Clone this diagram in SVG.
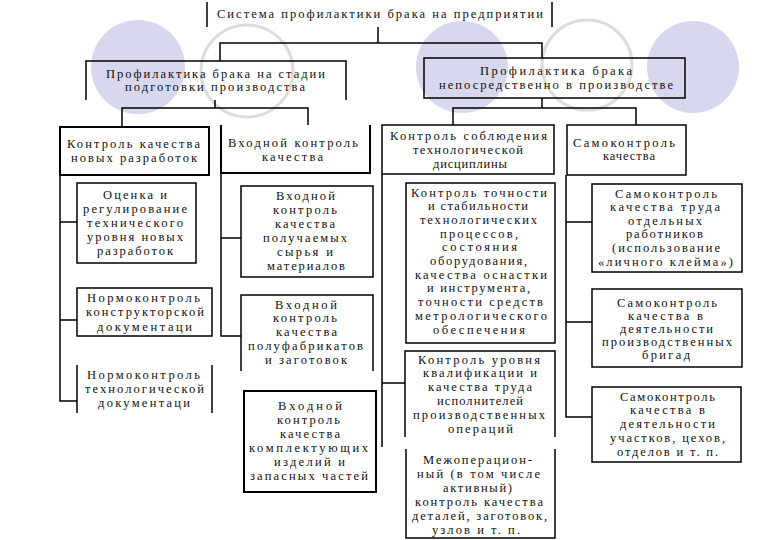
<svg xmlns="http://www.w3.org/2000/svg" width="780" height="540" viewBox="0 0 780 540">
<style>
.bg{fill:#d7d7ee}
.ring{fill:none;stroke:#dcdcdc;stroke-width:3}
.b{fill:none;stroke:#000;stroke-width:1.5}
.k{fill:none;stroke:#000;stroke-width:1.5}
text{font-family:"Liberation Serif","Times New Roman",serif;font-size:12.5px;fill:#111}
</style>
<rect width="780" height="540" fill="#fff"/>
<g id="background">
<circle class="bg" cx="138" cy="67" r="47"/>
<circle class="ring" cx="247" cy="71" r="46"/>
<circle class="bg" cx="462" cy="67" r="46"/>
<circle class="ring" cx="587" cy="65" r="45"/>
<circle class="bg" cx="693" cy="67" r="46"/>
</g>
<g id="connectors">
<path class="k" d="M378,27V43M220,61V43H542V58"/>
<path class="k" d="M215,100V108M122,127V108H308V125"/>
<path class="k" d="M542,98V108M453,125V108H636V125"/>
<path class="k" d="M60,175V401H77M60,222H77M60,320H77"/>
<path class="k" d="M221,173V336H241M221,238H241"/>
<path class="k" d="M382,174V447M382,383H405"/>
<path class="k" d="M566,175V417H592M566,222H592M566,322H592"/>
</g>
<g id="n0">
<path class="b" d="M207,2V27M552,2V27"/>
<text x="217" y="18" textLength="326" lengthAdjust="spacing">Система профилактики брака на предприятии</text>
</g>
<g id="n1">
<path class="b" d="M86,100V61H346V100"/>
<text x="106" y="77.5" textLength="219" lengthAdjust="spacing">Профилактика брака на стадии</text>
<text x="125" y="91" textLength="180" lengthAdjust="spacing">подготовки производства</text>
</g>
<g id="n2">
<rect class="b" x="424" y="58" width="261" height="40"/>
<text x="480" y="74.5" textLength="152" lengthAdjust="spacing">Профилактика брака</text>
<text x="439" y="88.5" textLength="234" lengthAdjust="spacing">непосредственно в производстве</text>
</g>
<g id="n3">
<rect class="b" x="60" y="127" width="149" height="48" style="stroke-width:2"/>
<text x="67" y="148" textLength="133" lengthAdjust="spacing">Контроль качества</text>
<text x="71" y="162" textLength="126" lengthAdjust="spacing">новых разработок</text>
</g>
<g id="n4">
<path class="b" d="M221,125V173H370V125" style="stroke-width:2"/>
<text x="228" y="147" textLength="130" lengthAdjust="spacing">Входной контроль</text>
<text x="262" y="161" textLength="61" lengthAdjust="spacing">качества</text>
</g>
<g id="n5">
<rect class="b" x="382" y="125" width="172" height="49"/>
<text x="390" y="140" textLength="157" lengthAdjust="spacing">Контроль соблюдения</text>
<text x="413" y="154" textLength="110" lengthAdjust="spacing">технологической</text>
<text x="433" y="168" textLength="74" lengthAdjust="spacing">дисциплины</text>
</g>
<g id="n6">
<rect class="b" x="567" y="125" width="119" height="50"/>
<text x="573" y="147" textLength="102" lengthAdjust="spacing">Самоконтроль</text>
<text x="603" y="160" textLength="52" lengthAdjust="spacing">качества</text>
</g>
<g id="n7">
<rect class="b" x="77" y="183" width="119" height="80"/>
<text x="103" y="198.5" textLength="64" lengthAdjust="spacing">Оценка и</text>
<text x="83" y="212.5" textLength="104" lengthAdjust="spacing">регулирование</text>
<text x="87" y="226.5" textLength="96" lengthAdjust="spacing">технического</text>
<text x="87" y="240.5" textLength="96" lengthAdjust="spacing">уровня новых</text>
<text x="97" y="254.5" textLength="76" lengthAdjust="spacing">разработок</text>
</g>
<g id="n8">
<rect class="b" x="77" y="288" width="135" height="48"/>
<text x="87" y="301.5" textLength="113" lengthAdjust="spacing">Нормоконтроль</text>
<text x="86" y="316" textLength="118" lengthAdjust="spacing">конструкторской</text>
<text x="97" y="330.5" textLength="95" lengthAdjust="spacing">документаци</text>
</g>
<g id="n9">
<path class="b" d="M77,365V413M212,365V413"/>
<text x="87" y="378.5" textLength="113" lengthAdjust="spacing">Нормоконтроль</text>
<text x="85" y="392.5" textLength="119" lengthAdjust="spacing">технологической</text>
<text x="98" y="406.5" textLength="92" lengthAdjust="spacing">документаци</text>
</g>
<g id="n10">
<rect class="b" x="241" y="186" width="132" height="91"/>
<text x="276" y="199.5" textLength="59" lengthAdjust="spacing">Входной</text>
<text x="273" y="213.5" textLength="64" lengthAdjust="spacing">контроль</text>
<text x="275" y="227.5" textLength="60" lengthAdjust="spacing">качества</text>
<text x="263" y="241.5" textLength="84" lengthAdjust="spacing">получаемых</text>
<text x="277" y="255.5" textLength="56" lengthAdjust="spacing">сырья и</text>
<text x="267" y="269.5" textLength="78" lengthAdjust="spacing">материалов</text>
</g>
<g id="n11">
<path class="b" d="M241,371V295H373V371"/>
<text x="275" y="308.5" textLength="62" lengthAdjust="spacing">Входной</text>
<text x="273" y="322.3" textLength="64" lengthAdjust="spacing">контроль</text>
<text x="276" y="336" textLength="61" lengthAdjust="spacing">качества</text>
<text x="248" y="349.8" textLength="115" lengthAdjust="spacing">полуфабрикатов</text>
<text x="265" y="363.5" textLength="82" lengthAdjust="spacing">и заготовок</text>
</g>
<g id="n12">
<rect class="b" x="244" y="391" width="132" height="101" style="stroke-width:2"/>
<text x="278" y="409.5" textLength="64" lengthAdjust="spacing">Входной</text>
<text x="277" y="423.5" textLength="63" lengthAdjust="spacing">контроль</text>
<text x="280" y="437.5" textLength="60" lengthAdjust="spacing">качества</text>
<text x="249" y="451.5" textLength="119" lengthAdjust="spacing">комплектующих</text>
<text x="274" y="465.5" textLength="71" lengthAdjust="spacing">изделий и</text>
<text x="250" y="479.5" textLength="118" lengthAdjust="spacing">запасных частей</text>
</g>
<g id="n13">
<rect class="b" x="406" y="183" width="149" height="160"/>
<text x="411" y="196.5" textLength="136" lengthAdjust="spacing">Контроль точности</text>
<text x="428" y="210.2" textLength="100" lengthAdjust="spacing">и стабильности</text>
<text x="420" y="223.9" textLength="117" lengthAdjust="spacing">технологических</text>
<text x="440" y="237.6" textLength="78" lengthAdjust="spacing">процессов,</text>
<text x="442" y="251.3" textLength="75" lengthAdjust="spacing">состояния</text>
<text x="430" y="265" textLength="97" lengthAdjust="spacing">оборудования,</text>
<text x="415" y="278.7" textLength="132" lengthAdjust="spacing">качества оснастки</text>
<text x="427" y="292.4" textLength="103" lengthAdjust="spacing">и инструмента,</text>
<text x="418" y="306.1" textLength="125" lengthAdjust="spacing">точности средств</text>
<text x="415" y="319.8" textLength="132" lengthAdjust="spacing">метрологического</text>
<text x="433" y="333.5" textLength="92" lengthAdjust="spacing">обеспечения</text>
</g>
<g id="n14">
<path class="b" d="M405,437V351H555V437"/>
<text x="418" y="363.5" textLength="122" lengthAdjust="spacing">Контроль уровня</text>
<text x="423" y="377.3" textLength="114" lengthAdjust="spacing">квалификации и</text>
<text x="428" y="391.1" textLength="104" lengthAdjust="spacing">качества труда</text>
<text x="437" y="404.9" textLength="86" lengthAdjust="spacing">исполнителей</text>
<text x="413" y="418.7" textLength="132" lengthAdjust="spacing">производственных</text>
<text x="448" y="432.5" textLength="65" lengthAdjust="spacing">операций</text>
</g>
<g id="n15">
<path class="b" d="M406,449V538H555V449"/>
<text x="423" y="463.5" textLength="109" lengthAdjust="spacing">Межоперацион-</text>
<text x="417" y="477.5" textLength="123" lengthAdjust="spacing">ный (в том числе</text>
<text x="443" y="491.5" textLength="69" lengthAdjust="spacing">активный)</text>
<text x="415" y="505.5" textLength="128" lengthAdjust="spacing">контроль качества</text>
<text x="412" y="519.5" textLength="135" lengthAdjust="spacing">деталей, заготовок,</text>
<text x="432" y="533.5" textLength="88" lengthAdjust="spacing">узлов и т. п.</text>
</g>
<g id="n16">
<rect class="b" x="592" y="184" width="150" height="88"/>
<text x="615" y="197.5" textLength="102" lengthAdjust="spacing">Самоконтроль</text>
<text x="610" y="211.1" textLength="110" lengthAdjust="spacing">качества труда</text>
<text x="628" y="224.7" textLength="74" lengthAdjust="spacing">отдельных</text>
<text x="626" y="238.3" textLength="77" lengthAdjust="spacing">работников</text>
<text x="612" y="251.9" textLength="108" lengthAdjust="spacing">(использование</text>
<text x="598" y="265.5" textLength="135" lengthAdjust="spacing">«личного клейма»)</text>
</g>
<g id="n17">
<rect class="b" x="592" y="289" width="150" height="78"/>
<text x="617" y="306.5" textLength="100" lengthAdjust="spacing">Самоконтроль</text>
<text x="628" y="319.5" textLength="75" lengthAdjust="spacing">качества в</text>
<text x="620" y="332.5" textLength="93" lengthAdjust="spacing">деятельности</text>
<text x="602" y="345.5" textLength="130" lengthAdjust="spacing">производственных</text>
<text x="642" y="358.5" textLength="48" lengthAdjust="spacing">бригад</text>
</g>
<g id="n18">
<rect class="b" x="592" y="387" width="149" height="75"/>
<text x="620" y="400.5" textLength="95" lengthAdjust="spacing">Самоконтроль</text>
<text x="630" y="414.3" textLength="75" lengthAdjust="spacing">качества в</text>
<text x="620" y="428" textLength="95" lengthAdjust="spacing">деятельности</text>
<text x="610" y="441.8" textLength="115" lengthAdjust="spacing">участков, цехов,</text>
<text x="617" y="455.5" textLength="101" lengthAdjust="spacing">отделов и т. п.</text>
</g>
</svg>
